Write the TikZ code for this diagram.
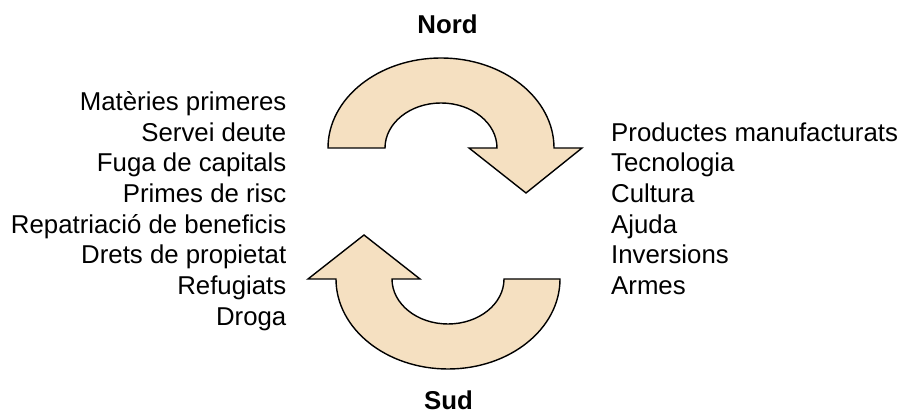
\documentclass[tikz,border=0pt]{standalone}
\usepackage{fontspec}
\setmainfont{Liberation Sans}
\definecolor{bandfill}{RGB}{245,224,193}
\begin{document}
\begin{tikzpicture}[x=1pt,y=1pt,
  band/.style={fill=bandfill,draw=black,line width=1.4pt,line join=miter},
  lefttext/.style={anchor=base east,inner sep=0pt,font=\fontsize{25.8}{31}\selectfont},
  righttext/.style={anchor=base west,inner sep=0pt,font=\fontsize{25.8}{31}\selectfont},
  titletext/.style={anchor=base,inner sep=0pt,font=\fontsize{25.8}{31}\selectfont\bfseries}]
\useasboundingbox (0,0) rectangle (899,411);
% top arrow (Nord)
\draw[band] (328,263) arc[start angle=180,end angle=0,x radius=113,y radius=90]
  -- (582,263) -- (526,218) -- (469,263) -- (497,263)
  arc[start angle=0,end angle=180,x radius=56,y radius=45] -- cycle;
% bottom arrow (Sud)
\draw[band] (560,132) arc[start angle=0,end angle=-180,x radius=112,y radius=90]
  -- (308,132) -- (364,176) -- (420,132) -- (392,132)
  arc[start angle=180,end angle=360,x radius=56,y radius=45] -- cycle;
\node[titletext] (nord) at (447.5,377.5) {Nord};
\node[titletext] (sud) at (448.5,1.8) {Sud};
\node[lefttext] (l1) at (286.5,300.5) {Matèries primeres};
\node[lefttext] (l2) at (286.5,269.8) {Servei deute};
\node[lefttext] (l3) at (286.5,239.1) {Fuga de capitals};
\node[lefttext] (l4) at (286.5,208.4) {Primes de risc};
\node[lefttext] (l5) at (286.5,177.7) {Repatriació de beneficis};
\node[lefttext] (l6) at (286.5,147.0) {Drets de propietat};
\node[lefttext] (l7) at (286.5,116.3) {Refugiats};
\node[lefttext] (l8) at (286.5,85.6) {Droga};
\node[righttext] (r1) at (611,269.8) {Productes manufacturats};
\node[righttext] (r2) at (611,239.1) {Tecnologia};
\node[righttext] (r3) at (611,208.4) {Cultura};
\node[righttext] (r4) at (611,177.7) {Ajuda};
\node[righttext] (r5) at (611,147.0) {Inversions};
\node[righttext] (r6) at (611,116.3) {Armes};
\end{tikzpicture}
\end{document}
